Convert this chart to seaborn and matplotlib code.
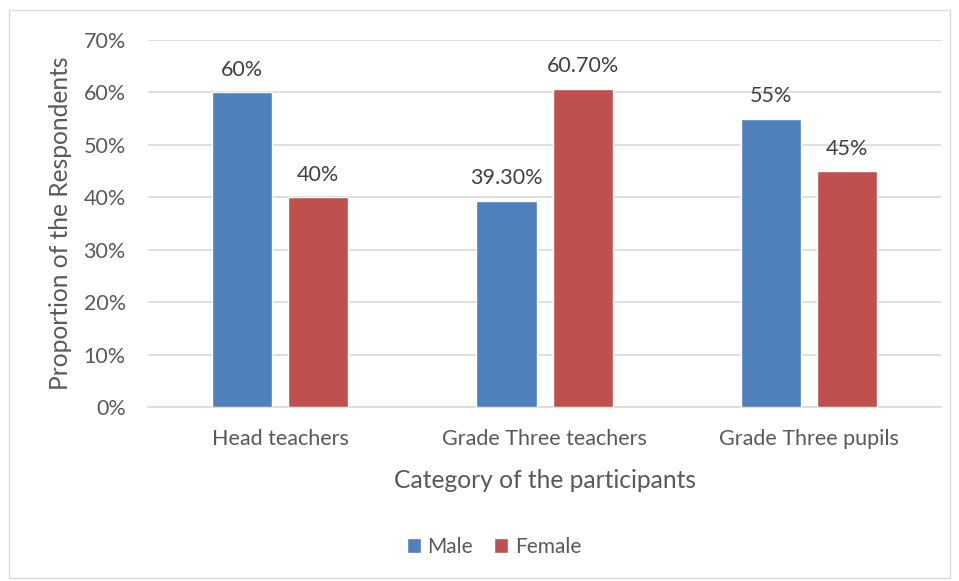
import pandas as pd
import matplotlib.pyplot as plt
import seaborn as sns
from matplotlib.patches import Rectangle

# Chart data
categories = ['Head teachers', 'Grade Three teachers', 'Grade Three pupils']
male = [60, 39.3, 55]
female = [40, 60.7, 45]
male_labels = ['60%', '39.30%', '55%']
female_labels = ['40%', '60.70%', '45%']
y_ticks = [0, 10, 20, 30, 40, 50, 60, 70]

df = pd.DataFrame({
    'Category': categories * 2,
    'Sex': ['Male'] * 3 + ['Female'] * 3,
    'Value': male + female,
})

sns.set_style('white')
plt.rcParams['font.family'] = ['Lato', 'DejaVu Sans']
text_color = '#595959'
grid_color = '#D9D9D9'

fig = plt.figure(figsize=(9.59, 5.81), dpi=100)
ax = fig.add_axes([0.1543, 0.2995, 0.827, 0.6317])

sns.barplot(data=df, x='Category', y='Value', hue='Sex', ax=ax,
            palette={'Male': '#4F81BD', 'Female': '#C0504D'},
            width=0.576, gap=0.21, saturation=1, zorder=3)

for container, labels in zip(ax.containers, [male_labels, female_labels]):
    ax.bar_label(container, labels=labels, padding=9, fontsize=15.5, color='#404040')

ax.set_ylim(0, 70)
ax.set_xlim(-0.5, 2.5)
ax.set_yticks(y_ticks)
ax.set_yticklabels([f'{t}%' for t in y_ticks])
ax.yaxis.grid(True, color=grid_color, linewidth=1.2, zorder=0)
ax.set_axisbelow(True)
for s in ['top', 'right', 'left']:
    ax.spines[s].set_visible(False)
ax.spines['bottom'].set_color(grid_color)
ax.spines['bottom'].set_linewidth(1.2)
ax.tick_params(axis='both', length=0, labelsize=15.5, colors=text_color)
ax.tick_params(axis='y', pad=16)
ax.tick_params(axis='x', pad=16)

ax.set_xlabel('Category of the participants', fontsize=17.7, color=text_color, labelpad=14)
ax.set_ylabel('Proportion of the Respondents', fontsize=17.7, color=text_color, labelpad=8)

ax.legend(loc='center', bbox_to_anchor=(0.436, -0.381), ncol=2, frameon=False,
          fontsize=15, labelcolor=text_color, handlelength=0.7, handleheight=0.7,
          handletextpad=0.3, columnspacing=1.0)

fig.patches.append(Rectangle((9 / 959, 3 / 581), 941 / 959, 568 / 581,
                             transform=fig.transFigure, fill=False,
                             edgecolor='#D9D9D9', linewidth=1))

fig.savefig('out.png', dpi=100)
